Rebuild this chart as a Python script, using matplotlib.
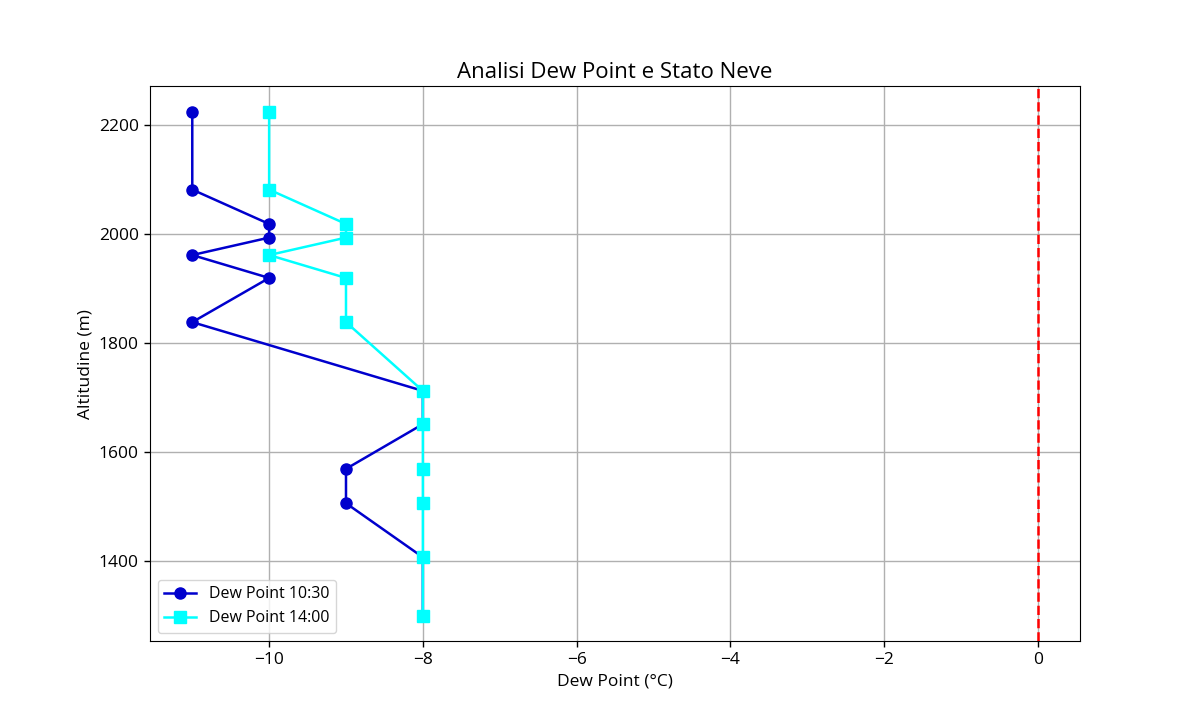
import matplotlib
matplotlib.use("Agg")
import matplotlib.pyplot as plt

plt.rcParams['font.family'] = ['Open Sans', 'DejaVu Sans']

# altitudes (m) and dew point readings (°C)
altitudine = [2224, 2081, 2018, 1993, 1961, 1919, 1838, 1712, 1651, 1569, 1506, 1407, 1300]
dew_1030 = [-11, -11, -10, -10, -11, -10, -11, -8, -8, -9, -9, -8, -8]
dew_1400 = [-10, -10, -9, -9, -10, -9, -9, -8, -8, -8, -8, -8, -8]
soglia = 0

fig, ax = plt.subplots(figsize=(12, 7.2), dpi=100)

ax.plot(dew_1030, altitudine, marker='o', color='mediumblue', linewidth=1.8,
        markersize=8, label='Dew Point 10:30')
ax.plot(dew_1400, altitudine, marker='s', color='cyan', linewidth=1.8,
        markersize=8, label='Dew Point 14:00')
ax.axvline(soglia, color='red', linestyle='--', linewidth=1.8)

ax.set_title('Analisi Dew Point e Stato Neve', fontsize=16)
ax.set_xlabel('Dew Point (°C)', fontsize=12.5)
ax.set_ylabel('Altitudine (m)', fontsize=12.5)
ax.tick_params(labelsize=12.5, width=1, length=4.5)
ax.grid(True, linewidth=1)
ax.legend(loc='lower left', fontsize=11.5)

fig.savefig('out.png')
plt.close()
